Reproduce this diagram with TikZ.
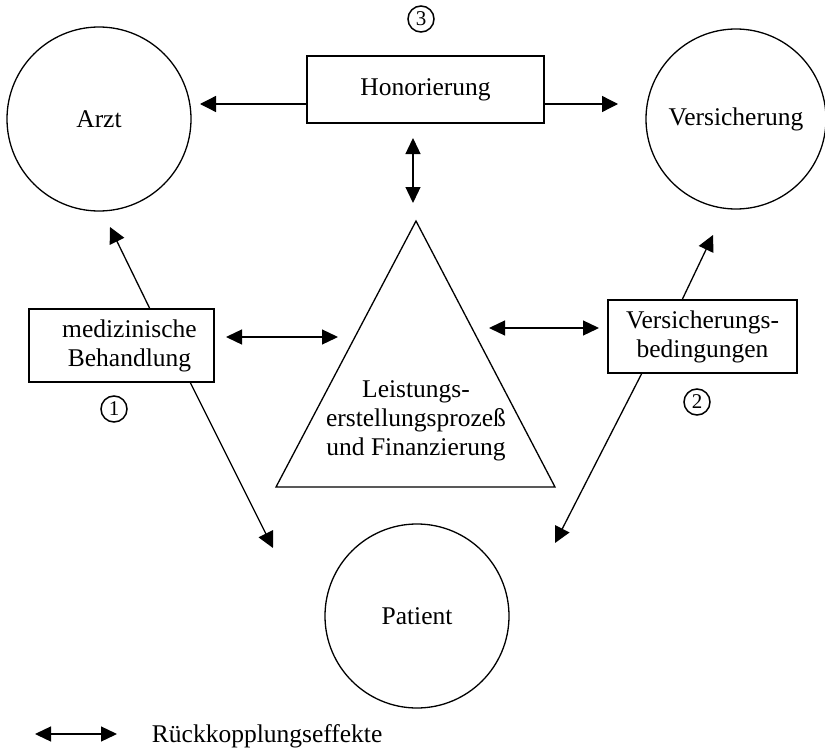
\documentclass[tikz,border=0pt]{standalone}
\usepackage{fontspec}
\setmainfont{Liberation Serif}
\usetikzlibrary{arrows.meta}
\begin{document}
\begin{tikzpicture}[x=1pt,y=-1pt,
  every node/.style={font=\fontsize{25.5}{29}\selectfont},
  line width=1.3pt,
  arr/.style={-{Triangle[length=16pt,width=16pt]}},
  darr/.style={{Triangle[length=16pt,width=15pt]}-{Triangle[length=16pt,width=15pt]}},
  circ/.style={draw,circle,inner sep=0pt},
  box/.style={draw,rectangle,inner sep=0pt,align=center},
  num/.style={draw,circle,line width=1.5pt,inner sep=0pt,minimum size=26pt,font=\fontsize{21}{22}\selectfont}]
\useasboundingbox (0,0) rectangle (825,752);
% circles
\node[circ,minimum size=184pt] (arzt) at (99,119) {Arzt};
\node[circ,minimum size=180pt] (vers) at (736,119) {Versicherung};
\node[circ,minimum size=184pt] (pat) at (417,616) {Patient};
% boxes
\node[box,minimum width=237pt,minimum height=67pt] (hon) at (425.5,89.5) {Honorierung};
\node[box,minimum width=185pt,minimum height=73pt] (med) at (121.5,345.5) {\hspace*{16pt}medizinische\\\hspace*{16pt}Behandlung};
\node[box,minimum width=189pt,minimum height=73pt] (vb) at (702.5,336.5) {Versicherungs-\\bedingungen};
% triangle
\coordinate (tA) at (416,221);
\coordinate (tL) at (276,487);
\coordinate (tR) at (555,487);
\draw (tA) -- (tL) -- (tR) -- cycle;
\node[align=center] (tri) at (416,421) {Leistungs-\\erstellungsprozeß\\und Finanzierung};
% numbers
\node[num] (n3) at (421,19) {3};
\node[num] (n1) at (114,409) {1};
\node[num] (n2) at (697,402) {2};
% arrow end points
\coordinate (hA) at (200,104);
\coordinate (hV) at (618,104);
\coordinate (vT) at (413,138);
\coordinate (vB) at (413,203);
\coordinate (mA0) at (150,309);
\coordinate (mA) at (110,227);
\coordinate (mP0) at (190,382);
\coordinate (mP) at (273,548);
\coordinate (mT0) at (226,337);
\coordinate (mT) at (338,337);
\coordinate (tV0) at (489,328);
\coordinate (tV) at (599,328);
\coordinate (bV0) at (682,300);
\coordinate (bV) at (713,235);
\coordinate (bP0) at (642,373);
\coordinate (bP) at (555,543);
% connectors
\draw[arr] (hon.west |- hA) -- (hA);
\draw[arr] (hon.east |- hV) -- (hV);
\draw[darr] (vT) -- (vB);
\draw[arr] (mA0) -- (mA);
\draw[arr] (mP0) -- (mP);
\draw[darr] (mT0) -- (mT);
\draw[darr] (tV0) -- (tV);
\draw[arr] (bV0) -- (bV);
\draw[arr] (bP0) -- (bP);
% legend
\coordinate (lg0) at (35,734);
\coordinate (lg1) at (117,734);
\draw[darr] (lg0) -- (lg1);
\node[anchor=west] (lgt) at (148,736) {Rückkopplungseffekte};
\end{tikzpicture}
\end{document}
